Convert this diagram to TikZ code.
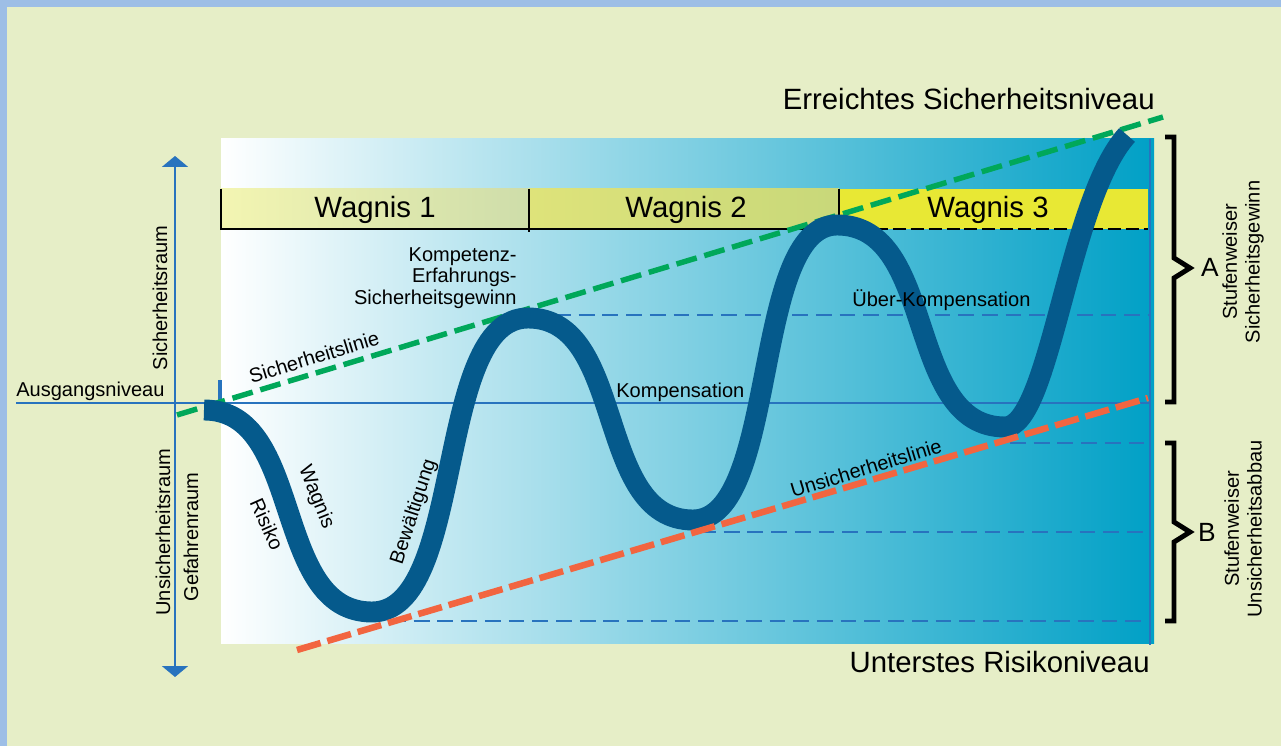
\documentclass[tikz,border=0pt]{standalone}
\definecolor{Hintergrund}{RGB}{230,238,199}
\definecolor{Rahmen}{RGB}{157,190,230}
\definecolor{Linienblau}{RGB}{40,115,190}
\definecolor{Kurvenblau}{RGB}{5,90,140}
\definecolor{Mittelblau}{RGB}{160,205,225}
\definecolor{Tuerkis}{RGB}{0,160,198}
\definecolor{Gruen}{RGB}{0,168,90}
\definecolor{Rot}{RGB}{242,101,64}
\definecolor{GelbHell}{RGB}{243,245,178}
\definecolor{GelbGrau}{RGB}{206,221,170}
\definecolor{OlivHell}{RGB}{222,227,122}
\definecolor{Oliv}{RGB}{200,216,122}
\definecolor{Gelb}{RGB}{232,232,52}
\usepackage{fontspec}
\setmainfont{Liberation Sans}
\usepackage{tikz}
\usetikzlibrary{arrows.meta, positioning}

\begin{document}
\begin{tikzpicture}[x=0.02cm, y=-0.02cm]
        \tikzstyle{klein} = [font=\fontsize{11.4}{12.3}\selectfont, inner sep=0pt]
        \tikzstyle{gross} = [font=\fontsize{16.7}{20}\selectfont, inner sep=0pt]
        \tikzstyle{achse} = [Linienblau, line width=1.13pt, {Triangle[width=14.7pt, length=6.2pt]}-{Triangle[width=14.7pt, length=6.2pt]}]
        \tikzstyle{niveau} = [Linienblau, line width=1.13pt, dash pattern=on 9pt off 4.5pt]
        \tikzstyle{kurve} = [Kurvenblau, line width=11.9pt, line cap=butt]
        \tikzstyle{klammer} = [black, line width=2.8pt, line join=miter]

        \useasboundingbox (0,0) rectangle (1281,746);

        % Hintergrund
        \fill[Hintergrund] (0,0) rectangle (1281,746);
        \fill[Rahmen] (0,0) rectangle (1281,7);
        \fill[Rahmen] (0,0) rectangle (7,746);
        \shade[left color=white, middle color=Mittelblau, right color=Tuerkis] (221,139) rectangle (1154,643);
        \draw[Linienblau, line width=1.13pt] (1150,139) -- (1150,645);

        % Wagnis-Balken
        \shade[left color=GelbHell, right color=GelbGrau] (221,189) rectangle (529,229);
        \shade[left color=OlivHell, right color=Oliv] (529,189) rectangle (839,229);
        \fill[Gelb] (839,189) rectangle (1148,229);
        \draw[black, line width=1.13pt] (221,189) -- (221,230) (529,189) -- (529,232) (839,189) -- (839,232);
        \draw[black, line width=1.13pt] (221,229) -- (839,229);
        \draw[black, line width=1.13pt, dash pattern=on 7.4pt off 2.8pt] (839,229) -- (1148,229);
        \node (wagnis1) [gross, anchor=base] at (375,218) {Wagnis 1};
        \node (wagnis2) [gross, anchor=base] at (686,218) {Wagnis 2};
        \node (wagnis3) [gross, anchor=base] at (988,218) {Wagnis 3};

        % Niveaulinien
        \draw[niveau] (555,315) -- (1148,315);
        \draw[niveau, line width=1.7pt] (1010,443) -- (1148,443);
        \draw[niveau] (700,532) -- (1148,532);
        \draw[niveau] (390,621) -- (1148,621);
        \draw[Linienblau, line width=1.13pt] (16,403) -- (1150,403);
        \draw[Linienblau, line width=1.9pt] (220,380) -- (220,403);
        \draw[achse] (175,677) -- (175,156);

        % Beschriftung links
        \node (ausgang) [klein, anchor=base west] at (16,397) {Ausgangsniveau};
        \node (sicherraum) [klein, rotate=90] at (160,298) {Sicherheitsraum};
        \node (unsicherraum) [klein, rotate=90] at (163,532) {Unsicherheitsraum};
        \node (gefahrraum) [klein, rotate=90] at (191,537) {Gefahrenraum};

        % Sicherheitslinie
        \draw[Gruen, line width=3.1pt, dash pattern=on 12pt off 4.5pt] (177,415) -- (1163,117);

        % Kurve
        \draw[kurve] (204,410) .. controls (305,410) and (271,612) .. (372,612)
            .. controls (466,612) and (434,318) .. (528,318)
            .. controls (627,318) and (594,520) .. (693,520)
            .. controls (779,520) and (751,225) .. (837,225)
            .. controls (938,225) and (904,427) .. (1005,427)
            .. controls (1050,427) and (1068,200) .. (1127,135);

        % Unsicherheitslinie
        \draw[Rot, line width=3.7pt, dash pattern=on 14pt off 4pt] (297,650) -- (1148,398);

        % Beschriftung Kurve
        \node (risiko) [klein, rotate=-66] at (267,524) {Risiko};
        \node (wagnis) [klein, rotate=-68] at (316,497) {Wagnis};
        \node (bewaeltigung) [klein, rotate=72] at (414,512) {Bewältigung};
        \node (sichlinie) [klein, rotate=17] at (314,357) {Sicherheitslinie};
        \node (unsichlinie) [klein, rotate=17] at (866,468) {Unsicherheitslinie};
        \node (gewinn) [klein, anchor=east, align=right] at (517,278) {Kompetenz-\\Erfahrungs-\\Sicherheitsgewinn};
        \node (kompensation) [klein, anchor=base west] at (616,398) {Kompensation};
        \node (ueberkomp) [klein, anchor=base west] at (852,307) {Über-Kompensation};

        % Niveaus oben und unten
        \node (erreicht) [gross, anchor=base east] at (1155,110) {Erreichtes Sicherheitsniveau};
        \node (unterst) [gross, anchor=base east] at (1150,672) {Unterstes Risikoniveau};

        % Klammern rechts
        \draw[klammer] (1165,137) -- (1174,137) -- (1174,258) -- (1190,268) -- (1174,278) -- (1174,402) -- (1165,402);
        \draw[klammer] (1165,443) -- (1174,443) -- (1174,522) -- (1190,532) -- (1174,542) -- (1174,621) -- (1165,621);
        \node (a) [font=\fontsize{15}{18}\selectfont, inner sep=0pt] at (1210,267) {A};
        \node (b) [font=\fontsize{15}{18}\selectfont, inner sep=0pt] at (1207,532) {B};
        \node (gewinnA) [font=\fontsize{11.4}{13}\selectfont, inner sep=0pt, rotate=90, align=center] at (1243,262) {Stufenweiser\\Sicherheitsgewinn};
        \node (abbauB) [font=\fontsize{11.4}{13}\selectfont, inner sep=0pt, rotate=90, align=center] at (1243,529) {Stufenweiser\\Unsicherheitsabbau};
    \end{tikzpicture}
\end{document}
